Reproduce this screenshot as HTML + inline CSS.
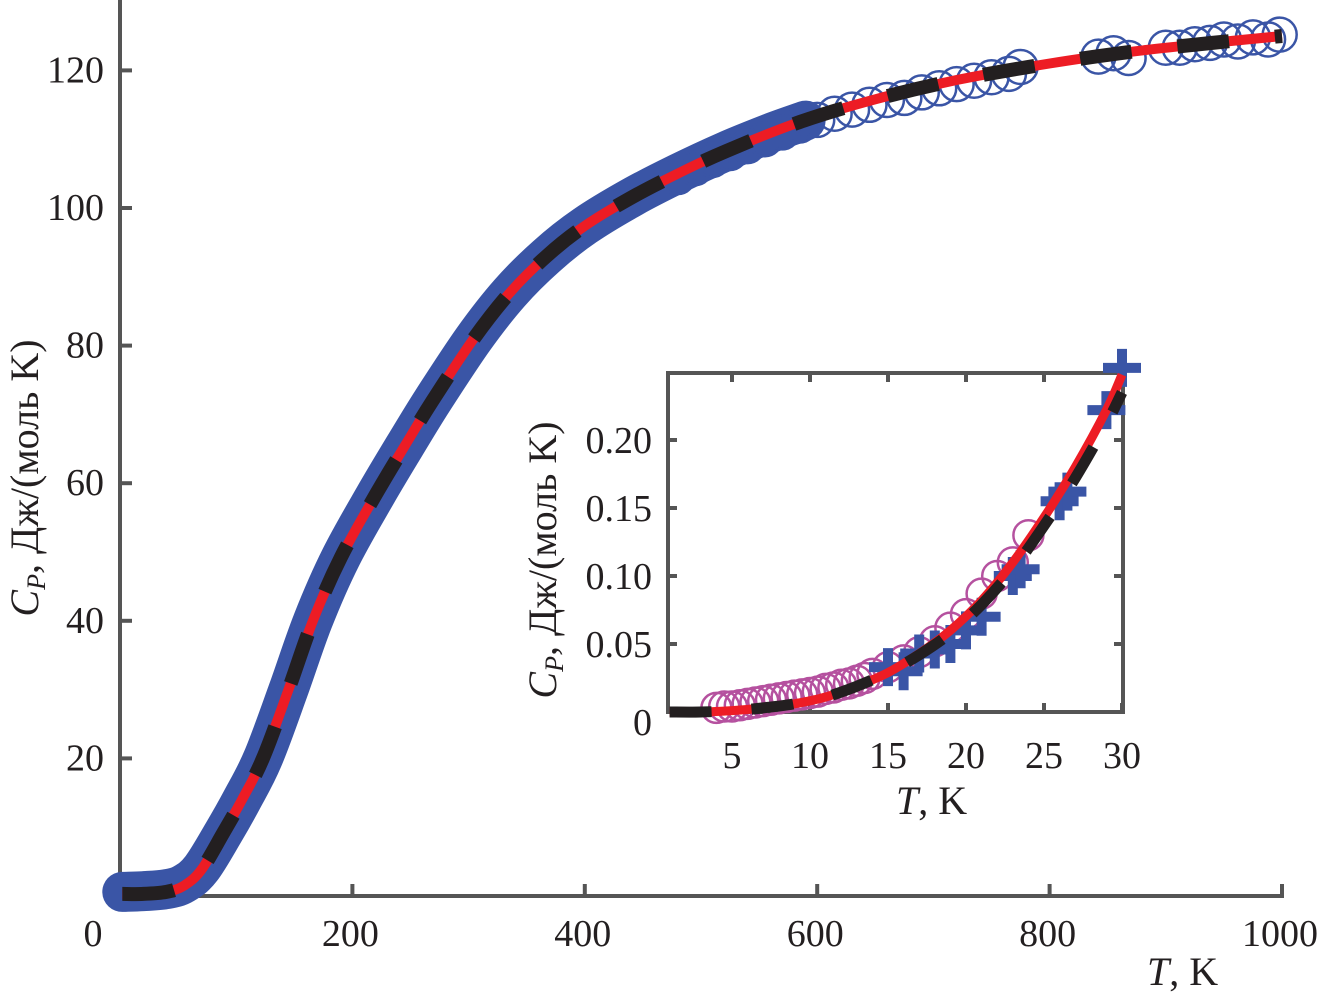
<!DOCTYPE html>
<html><head><meta charset="utf-8"><style>
html,body{margin:0;padding:0;background:#fff}
svg{display:block}
text{font-family:"Liberation Serif",serif;fill:#231f20}
</style></head><body>
<svg id="chart" width="1323" height="999" viewBox="0 0 1323 999"></svg>
<script>
// ===== main chart data =====
const mainT = [2,20,40,55,70,89,105,123,145,166,190,221,245,269,304,335,367,400,441,480,522,560,590];
const mainCp = [0.6,0.7,1.0,1.8,4,9.2,14,20,30,40,49.2,58.6,65.4,72,80.9,87.6,93,97.4,101.6,105,108.3,110.9,112.7];
const circT = [480,495,510,525,540,555,570,585,600,615,630,645,660,675,690,705,720,735,750,765,775,842,855,868,900,912,925,938,950,962,975,988,998];
const circCp = [104.5,105.8,107,108,109,110,111,112,112.8,113.7,114.3,115,115.7,116,116.8,117.4,118,118.5,119,119.5,120.5,122,122.5,121.8,123.3,123.3,123.8,124,124.5,124.2,124.8,124.5,125.2];
const fitT = [2,20,40,55,70,89,105,123,145,166,190,221,245,269,304,335,367,400,441,480,522,585,650,720,800,870,940,1000];
const fitCp = [0.3,0.3,0.6,1.5,3.8,9.2,14,20,30,40,49.2,58.6,65.4,72,80.9,87.6,93,97.4,101.6,105,108.3,112.5,115.8,118.6,121,122.7,124,125];
const xTicks = [0,200,400,600,800,1000];
const yTicks = [20,40,60,80,100,120];
// ===== inset data =====
const inCircT = [4,4.5,5,5.5,6,6.5,7,7.5,8,8.5,9,9.5,10,10.5,11,11.5,12,12.5,13,13.5,14,15,16,17,18,19,20,21,22,23,24];
const inCircCp = [0.003,0.004,0.004,0.005,0.006,0.007,0.008,0.009,0.010,0.011,0.012,0.013,0.014,0.015,0.017,0.018,0.020,0.021,0.023,0.025,0.028,0.033,0.038,0.044,0.052,0.062,0.072,0.087,0.100,0.110,0.130];
const inPlusT = [15,16,17,18,19,20,21,23,23.5,26,26.5,29,30];
const inPlusCp = [0.033,0.030,0.043,0.046,0.050,0.060,0.070,0.100,0.105,0.155,0.162,0.222,0.253];
const inFitT = [1,3,5,7,9,11,13,15,17,19,21,23,25,27,29,30];
const inFitRed = [0,0,0.001,0.003,0.006,0.011,0.019,0.029,0.043,0.060,0.082,0.110,0.143,0.180,0.222,0.248];
const inFitBlack = [0,0,0.001,0.003,0.006,0.011,0.019,0.029,0.042,0.058,0.079,0.105,0.137,0.172,0.212,0.235];
const inXTicks = [5,10,15,20,25,30];
const inYTicks = [0,0.05,0.10,0.15,0.20];
const inYLabels = ["0","0.05","0.10","0.15","0.20"];

const NS="http://www.w3.org/2000/svg";
const svg=document.getElementById('chart');
function mk(tag,attrs,parent){const e=document.createElementNS(NS,tag);for(const k in attrs)e.setAttribute(k,attrs[k]);(parent||svg).appendChild(e);return e;}
const X=t=>120+t*1.162;
const Y=c=>896-c*6.88;
const IX=t=>669.6+(t-1)*15.6;
const IY=c=>712-c*1360;
function smooth(xs,ys,fx,fy){
  const p=xs.map((v,i)=>[fx(v),fy(ys[i])]);
  let d=`M${p[0][0].toFixed(1)},${p[0][1].toFixed(1)}`;
  for(let i=0;i<p.length-1;i++){
    const p0=p[Math.max(0,i-1)],p1=p[i],p2=p[i+1],p3=p[Math.min(p.length-1,i+2)];
    const c1=[p1[0]+(p2[0]-p0[0])/6,p1[1]+(p2[1]-p0[1])/6];
    const c2=[p2[0]-(p3[0]-p1[0])/6,p2[1]-(p3[1]-p1[1])/6];
    d+=`C${c1[0].toFixed(1)},${c1[1].toFixed(1)} ${c2[0].toFixed(1)},${c2[1].toFixed(1)} ${p2[0].toFixed(1)},${p2[1].toFixed(1)}`;
  }
  return d;
}
const FS=38;

// main axes
let e=mk('line',{x1:120,y1:0,x2:120,y2:898,stroke:'#555',"stroke-width":4});


e=mk('line',{x1:118,y1:896,x2:1284,y2:896,stroke:'#555',"stroke-width":4});


xTicks.forEach(t=>{
  if(t>0){e=mk('line',{x1:X(t),y1:896,x2:X(t),y2:884,stroke:'#555',"stroke-width":4});
  
  }
  e=mk('text',{x:t===0?93:X(t)-2,y:946,"text-anchor":"middle","font-size":FS});
  e.textContent=t;
  
  
});
yTicks.forEach(c=>{
  e=mk('line',{x1:120,y1:Y(c),x2:132,y2:Y(c),stroke:'#555',"stroke-width":4});
  
  
  e=mk('text',{x:104,y:Y(c)+12,"text-anchor":"end","font-size":FS});
  e.textContent=c;
  
  
});
// data band
e=mk('path',{d:smooth(mainT,mainCp,X,Y),fill:'none',stroke:'#3a55a6',"stroke-width":40,"stroke-linecap":"round","stroke-linejoin":"round"});


circT.forEach((t,i)=>{
  e=mk('circle',{cx:X(t),cy:Y(circCp[i]),r:17,fill:'none',stroke:'#3a55a6',"stroke-width":2.5});
  
  
});
e=mk('path',{d:smooth(fitT,fitCp,X,Y),fill:'none',stroke:'#ed1c24',"stroke-width":10});


e=mk('path',{d:smooth(fitT,fitCp,X,Y),fill:'none',stroke:'#231f20',"stroke-width":14,"stroke-dasharray":"52 46"});


// main titles
e=mk('text',{x:1147,y:985,"font-size":40});
e.innerHTML='<tspan font-style="italic">T</tspan>, K';


e=mk('text',{x:0,y:0,"font-size":40,"text-anchor":"middle",transform:"translate(38,478) rotate(-90)"});
e.innerHTML='<tspan font-style="italic">C</tspan><tspan font-style="italic" font-size="26" dy="7">P</tspan><tspan dy="-7">, Дж/(моль K)</tspan>';



// ===== inset =====
const g=mk('g',{});


e=mk('rect',{x:668,y:373,width:455,height:339,fill:'#fff',stroke:'#555',"stroke-width":4},g);


inXTicks.forEach(t=>{
  [[712,703],[373,382]].forEach(p=>{e=mk('line',{x1:IX(t),y1:p[0],x2:IX(t),y2:p[1],stroke:'#555',"stroke-width":4},g);
  
  });
  e=mk('text',{x:IX(t),y:768,"text-anchor":"middle","font-size":FS},g);
  e.textContent=t;
  
  
});
inYTicks.forEach((c,i)=>{
  if(c>0){[[668,677],[1123,1114]].forEach(p=>{e=mk('line',{x1:p[0],y1:IY(c),x2:p[1],y2:IY(c),stroke:'#555',"stroke-width":4},g);
  
  });}
  e=mk('text',{x:652,y:IY(c)+13+(c===0?10:0),"text-anchor":"end","font-size":FS},g);
  e.textContent=inYLabels[i];
  
  
});
inCircT.forEach((t,i)=>{
  e=mk('circle',{cx:IX(t),cy:IY(inCircCp[i]),r:15,fill:'none',stroke:'#b5519f',"stroke-width":2.5},g);
  
  
});
inPlusT.forEach((t,i)=>{
  const x=IX(t),y=IY(inPlusCp[i]);
  e=mk('path',{d:`M${x-19},${y}H${x+19}M${x},${y-19}V${y+19}`,stroke:'#3a55a6',"stroke-width":10,fill:'none'},g);
  
  
});
e=mk('path',{d:smooth(inFitT,inFitRed,IX,IY),fill:'none',stroke:'#ed1c24',"stroke-width":9},g);


e=mk('path',{d:smooth(inFitT,inFitBlack,IX,IY),fill:'none',stroke:'#231f20',"stroke-width":11,"stroke-dasharray":"42 40"},g);


e=mk('text',{x:896,y:814,"font-size":40},g);
e.innerHTML='<tspan font-style="italic">T</tspan>, K';


e=mk('text',{x:0,y:0,"font-size":40,"text-anchor":"middle",transform:"translate(556,560) rotate(-90)"},g);
e.innerHTML='<tspan font-style="italic">C</tspan><tspan font-style="italic" font-size="26" dy="7">P</tspan><tspan dy="-7">, Дж/(моль K)</tspan>';


</script>
</body></html>
